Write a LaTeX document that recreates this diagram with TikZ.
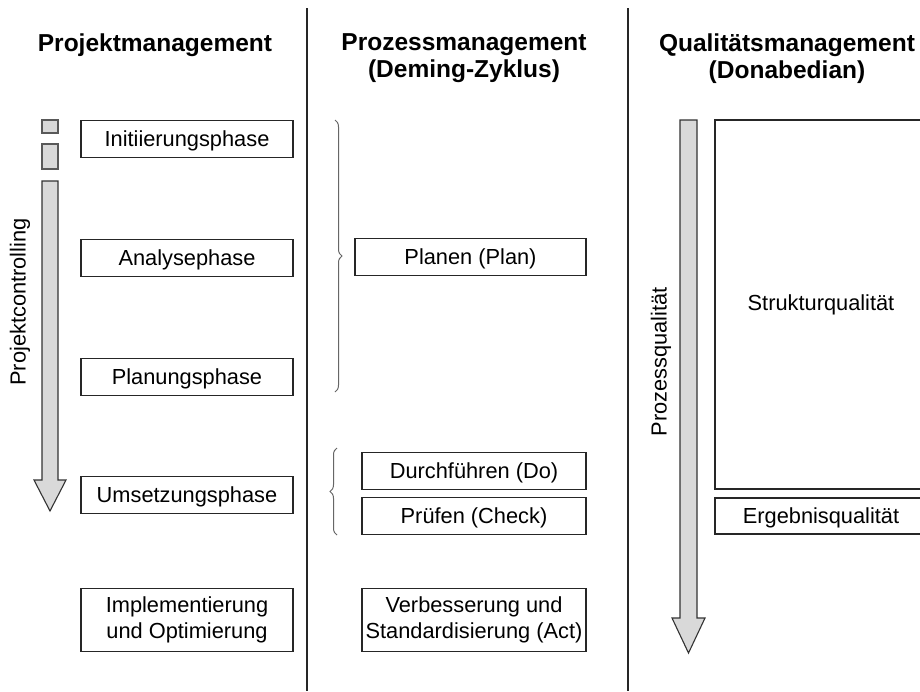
\documentclass[tikz,border=0pt]{standalone}
\usepackage{fontspec}
\setmainfont{Liberation Sans}
\usetikzlibrary{decorations.pathreplacing}
\begin{document}
\begin{tikzpicture}[x=1pt,y=-1pt,
  frame/.style={draw=black!85,line width=1.1pt,fill=white,minimum width=212pt,inner sep=0pt,font=\fontsize{21.8}{26}\selectfont,align=center},
  box/.style={frame,minimum height=37pt,text height=15.6pt,text depth=0pt},
  box2/.style={frame,minimum height=63pt},
  head/.style={font=\fontsize{24.5}{27}\selectfont\bfseries,align=center},
  txt/.style={font=\fontsize{21.8}{26}\selectfont,inner sep=0pt},
  bigarrow/.style={draw=black!80,line width=1.1pt,fill=black!15,line join=miter},
  sq/.style={draw=black!65,line width=1.1pt,fill=black!15},
  sep/.style={draw=black!85,line width=1.1pt},
  br/.style={draw=black!60,line width=1pt,decorate,decoration={brace,amplitude=7pt}}]
\clip (0,0) rectangle (920,691);
\fill[white] (0,0) rectangle (920,691);
% separators
\coordinate (s1t) at (307,8); \coordinate (s1b) at (307,691);
\coordinate (s2t) at (628,8); \coordinate (s2b) at (628,691);
\draw[sep] (s1t) -- (s1b);
\draw[sep] (s2t) -- (s2b);
% headers
\node[head] (h1) at (155,45) {Projektmanagement};
\node[head] (h2) at (464,58.5) {Prozessmanagement\\(Deming-Zyklus)};
\node[head] (h3) at (787,58.5) {Qualitätsmanagement\\(Donabedian)};
% left column
\draw[sq] (42,120) rectangle (58,133);
\draw[sq] (42,144) rectangle (58,169);
\draw[bigarrow] (42,181) -- (58,181) -- (58,480) -- (66,480) -- (50,511) -- (34,480) -- (42,480) -- cycle;
\node[txt,rotate=90] (pc) at (20,302) {Projektcontrolling};
\node[box] (init) at (187,139) {Initiierungsphase};
\node[box] (ana) at (187,258) {Analysephase};
\node[box] (plan) at (187,377) {Planungsphase};
\node[box] (ums) at (187,495) {Umsetzungsphase};
\node[box2] (impl) at (187,620) {Implementierung\\und Optimierung};
% middle column
\coordinate (b1t) at (335,120); \coordinate (b1b) at (335,392);
\draw[br] (b1t) -- (b1b);
\coordinate (b2t) at (337,448); \coordinate (b2b) at (337,535);
\draw[br] (b2b) -- (b2t);
\node[box,minimum width=231pt] (planen) at (470.5,257) {Planen (Plan)};
\node[box,minimum width=224pt] (durch) at (474,471) {Durchführen (Do)};
\node[box,minimum width=224pt] (pruef) at (474,516) {Prüfen (Check)};
\node[box2,minimum width=224pt] (verb) at (474,620) {Verbesserung und\\Standardisierung (Act)};
% right column
\draw[bigarrow] (680,120) -- (697,120) -- (697,618) -- (705,618) -- (688.5,653) -- (672,618) -- (680,618) -- cycle;
\node[txt,rotate=90] (pq) at (661,362) {Prozessqualität};
\draw[draw=black!85,line width=1.1pt] (940,120) -- (715,120) -- (715,489) -- (940,489);
\draw[draw=black!85,line width=1.1pt] (940,498) -- (715,498) -- (715,534) -- (940,534);
\node[txt,text height=15.6pt,text depth=0pt] (sq) at (821,303) {Strukturqualität};
\node[txt,text height=15.6pt,text depth=0pt] (eq) at (821,516) {Ergebnisqualität};
\end{tikzpicture}
\end{document}
